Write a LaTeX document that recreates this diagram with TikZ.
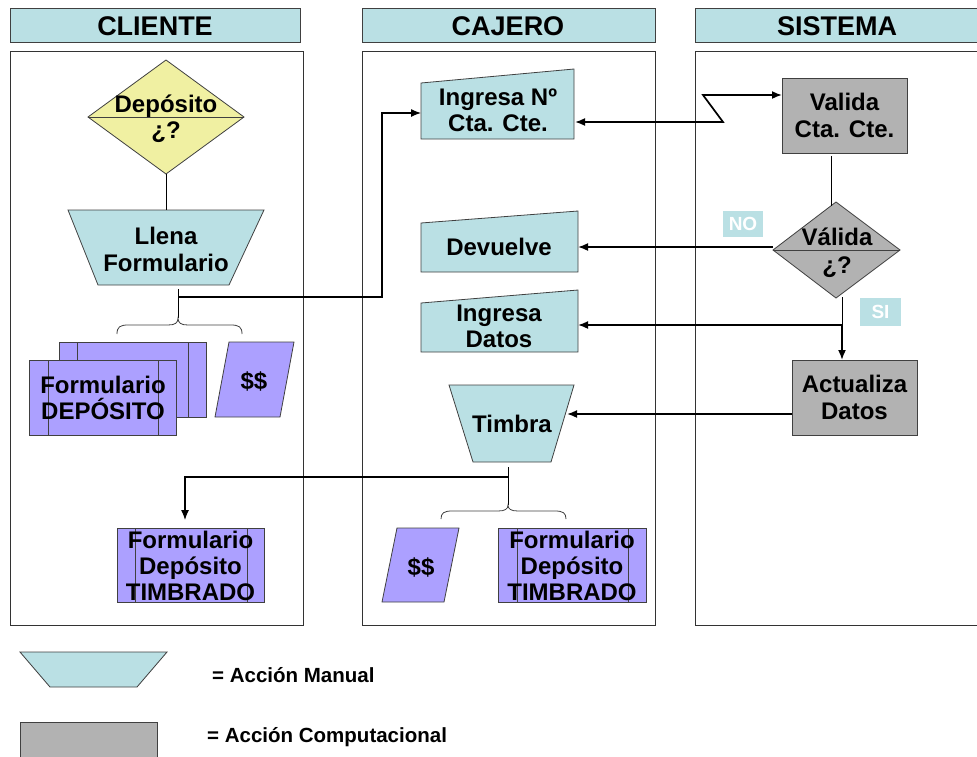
\documentclass[tikz,border=0pt]{standalone}
\usepackage{fontspec}
\setmainfont{Liberation Sans}
\usetikzlibrary{arrows.meta}
\definecolor{cyanfill}{RGB}{186,224,228}
\definecolor{purfill}{RGB}{172,160,255}
\definecolor{grayfill}{RGB}{178,178,178}
\definecolor{yelfill}{RGB}{240,240,162}
\begin{document}
\begin{tikzpicture}[x=1pt,y=-1pt,
  outl/.style={draw=black!75, line width=0.8pt},
  lanebox/.style={draw=black!80, line width=1pt},
  con/.style={draw=black, line width=0.9pt},
  arr/.style={draw=black, line width=1.7pt, -{Latex[length=10pt,width=8pt]}},
  tarr/.style={draw=black, line width=1.2pt, -{Latex[length=10pt,width=8pt]}},
  darr/.style={draw=black, line width=1.7pt, {Latex[length=10pt,width=8pt]}-{Latex[length=10pt,width=8pt]}},
  txt/.style={font=\bfseries\fontsize{24}{26}\selectfont, align=center, inner sep=0pt, text=black},
  hdr/.style={font=\bfseries\fontsize{27}{30}\selectfont, inner sep=0pt},
  lg/.style={font=\bfseries\fontsize{20.5}{23}\selectfont, inner sep=0pt, anchor=west},
  tag/.style={fill=cyanfill, text=white, font=\bfseries\fontsize{19}{20}\selectfont, minimum width=40pt, minimum height=26pt, inner sep=0pt},
  docbox/.style={outl, fill=purfill, rectangle, inner sep=0pt, minimum width=147pt, minimum height=74pt},
  compbox/.style={outl, fill=grayfill, rectangle, inner sep=0pt, minimum width=125pt, minimum height=75pt, align=center, font=\bfseries\fontsize{24}{27}\selectfont},
  brc/.style={draw=black!75, line width=0.8pt}
]
\useasboundingbox (0,0) rectangle (977,756);

% headers
\filldraw[outl, fill=cyanfill] (10,8) rectangle (300,42);
\filldraw[outl, fill=cyanfill] (362,8) rectangle (655,42);
\filldraw[outl, fill=cyanfill] (695,8) rectangle (985,42);
\node[hdr] (hcli) at (155,26) {CLIENTE};
\node[hdr] (hcaj) at (508,26) {CAJERO};
\node[hdr] (hsis) at (837,26) {SISTEMA};

% lanes
\draw[lanebox] (10,51) rectangle (303,625);
\draw[lanebox] (362,51) rectangle (655,625);
\draw[lanebox] (695,51) rectangle (985,625);

% ---------- CLIENTE ----------
\filldraw[outl, fill=yelfill] (166,60) -- (244,117) -- (166,174) -- (88,117) -- cycle;
\draw[outl] (88,117) -- (244,117);
\node[txt] (dep) at (166,119) {Depósito\\¿?};
\coordinate (depS) at (166,174);

\filldraw[outl, fill=cyanfill] (68,210) -- (264,210) -- (229,285) -- (98,285) -- cycle;
\node[txt, font=\bfseries\fontsize{24}{27}\selectfont] (llena) at (166,249) {Llena\\Formulario};
\coordinate (llenaN) at (166,210);
\draw[con] (depS) -- (llenaN);

\coordinate (ls) at (178,289);
\coordinate (lj) at (178,297);
\coordinate (lbr) at (178,318);
\draw[con] (ls) -- (lbr);
\draw[brc] (117,334) .. controls (117,327) and (120,325) .. (128,325) -- (168,325)
  .. controls (175,325) and (178,323) .. (lbr)
  .. controls (178,323) and (181,325) .. (188,325) -- (231,325)
  .. controls (239,325) and (242,327) .. (242,334);

% stacked forms
\filldraw[outl, fill=purfill] (59,342) rectangle (206,417);
\draw[outl] (77,342) -- (77,417) (188,342) -- (188,417);
\node[docbox, minimum height=75pt] (fdep) at (102.5,397.5) {};
\draw[outl] (48,360) -- (48,435) (158,360) -- (158,435);
\node[txt] (fdepT) at (103,398) {Formulario\\DEPÓSITO};

\filldraw[outl, fill=purfill] (229,342) -- (294,342) -- (280,417) -- (215,417) -- cycle;
\node[txt] (cash1) at (254,381) {\$\$};

\node[docbox] (timC) at (190.5,565) {};
\draw[outl] (135,528) -- (135,602) (247,528) -- (247,602);
\node[txt] (timCT) at (190.5,566) {Formulario\\Depósito\\TIMBRADO};
\coordinate (timCin) at (185,520);

% ---------- CAJERO ----------
\filldraw[outl, fill=cyanfill] (421,83) -- (574,69) -- (574,139) -- (421,139) -- cycle;
\node[txt] (ingN) at (498,110) {Ingresa Nº\\Cta. Cte.};
\coordinate (ingNW) at (421,113);
\coordinate (ingNE) at (575,122);

\filldraw[outl, fill=cyanfill] (421,223) -- (578,211) -- (578,272) -- (421,272) -- cycle;
\node[txt] (dev) at (499,247) {Devuelve};
\coordinate (devE) at (578,247);

\filldraw[outl, fill=cyanfill] (421,303) -- (578,290) -- (578,352) -- (421,352) -- cycle;
\node[txt] (ingD) at (499,326) {Ingresa\\Datos};
\coordinate (ingDE) at (578,325);

\filldraw[outl, fill=cyanfill] (449,385) -- (574,385) -- (551,462) -- (473,462) -- cycle;
\node[txt] (timbra) at (512,424) {Timbra};
\coordinate (timbraE) at (567,414);

\coordinate (ts) at (508,467);
\coordinate (tj) at (508,477);
\coordinate (tbr) at (508,505);
\draw[con] (ts) -- (tbr);
\draw[brc] (441,519) .. controls (441,513) and (444,511) .. (452,511) -- (498,511)
  .. controls (505,511) and (508,509) .. (tbr)
  .. controls (508,509) and (511,511) .. (518,511) -- (555,511)
  .. controls (563,511) and (566,513) .. (566,519);

\filldraw[outl, fill=purfill] (397,528) -- (459,528) -- (444,602) -- (382,602) -- cycle;
\node[txt] (cash2) at (421,567) {\$\$};

\node[docbox, minimum width=148pt] (timJ) at (572,565) {};
\draw[outl] (517,528) -- (517,602) (628,528) -- (628,602);
\node[txt] (timJT) at (572,566) {Formulario\\Depósito\\TIMBRADO};

% ---------- SISTEMA ----------
\node[compbox] (valida) at (844.5,115.5) {Valida\\Cta. Cte.};
\coordinate (valW) at (782,95);
\coordinate (valS) at (831,156);

\filldraw[outl, fill=grayfill] (836,202) -- (900,250) -- (836,298) -- (773,250) -- cycle;
\draw[outl] (773,250) -- (900,250);
\node[txt, font=\bfseries\fontsize{24}{28}\selectfont] (vq) at (837,253) {Válida\\¿?};
\coordinate (vqN) at (831,206);
\coordinate (vqW) at (773,247);
\coordinate (vqS) at (842,297);
\draw[con] (valS) -- (vqN);

\node[tag] (no) at (743,224) {NO};
\node[tag, minimum width=41pt, minimum height=28pt] (si) at (880.5,312) {SI};

\node[compbox] (act) at (854.5,397.5) {Actualiza\\Datos};
\coordinate (actN) at (842,360);
\coordinate (actW) at (792,414);
\coordinate (sj) at (842,325);

% ---------- connectors ----------
\coordinate (z1) at (723,122);
\coordinate (z2) at (703,95);
\draw[darr] (ingNE) -- (z1) -- (z2) -- (valW);
\draw[tarr] (lj) -| (382,200) |- (ingNW);
\draw[arr] (vqW) -- (devE);
\draw[con] (vqS) -- (sj);
\draw[arr] (sj) -- (actN);
\draw[arr] (sj) -- (ingDE);
\draw[arr] (actW) -- (timbraE);
\draw[tarr] (tj) -| (timCin);

% ---------- legend ----------
\filldraw[outl, fill=cyanfill] (20,652) -- (167,652) -- (137,687) -- (50,687) -- cycle;
\node[lg] (lg1) at (212,675) {= Acción Manual};
\filldraw[outl, fill=grayfill] (20,722) rectangle (157,770);
\node[lg] (lg2) at (207,737) {= Acción Computacional};
\end{tikzpicture}
\end{document}
